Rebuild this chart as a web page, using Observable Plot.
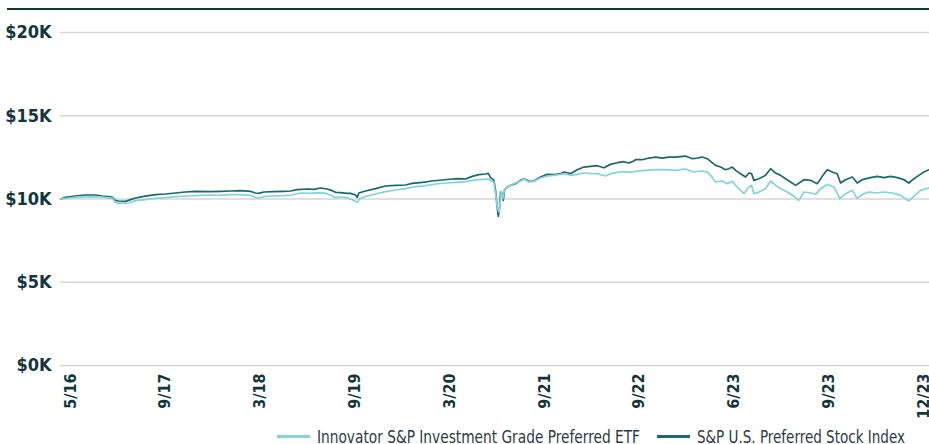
<!DOCTYPE html>
<html>
<head>
<meta charset="utf-8">
<script src="https://cdn.jsdelivr.net/npm/d3@7"></script>
<script src="https://cdn.jsdelivr.net/npm/@observablehq/plot@0.6"></script>
<style>
  html, body { margin: 0; padding: 0; background: #ffffff; }
  #wrap { position: relative; width: 929px; height: 444px; overflow: hidden; font-family: "DejaVu Sans Condensed", "DejaVu Sans", sans-serif; }
  #rule { position: absolute; left: 7px; top: 8px; width: 922px; height: 2px; background: #12363d; }
  #chart { position: absolute; left: 0; top: 0; }
  #chart svg [aria-label="y-axis tick label"] text,
  #chart svg [aria-label="x-axis tick label"] text { font-weight: 700; }
  .item { position: absolute; top: 426px; display: flex; align-items: center; white-space: nowrap; font-size: 18px; color: #2c3b3f; }
  .sw { display: inline-block; width: 33px; height: 3px; margin-right: 7px; }
  .lab { display: inline-block; transform-origin: left center; }
</style>
</head>
<body>
<div id="wrap">
  <div id="chart"></div>
  <div id="rule"></div>
  <div id="legend"></div>
</div>
<script>
// Tick labels (evenly spaced on the axis, as in the reference)
const tickLabels = ["5/16", "9/17", "3/18", "9/19", "3/20", "9/21", "9/22", "6/23", "9/23", "12/23"];
const yTicks = [0, 5000, 10000, 15000, 20000];

const seriesNames = ["Innovator S&P Investment Grade Preferred ETF", "S&P U.S. Preferred Stock Index"];
const seriesColors = ["#84d2db", "#1b686c"];

// S&P U.S. Preferred Stock Index: position along axis (tick units) and growth of $10K
const idxT = [-0.105,-0.053,0.053,0.158,0.264,0.338,0.401,0.443,0.464,0.506,0.580,0.633,0.686,0.759,0.823,0.897,1.002,1.108,1.213,1.319,
  1.477,1.582,1.688,1.793,1.899,1.951,1.986,2.039,2.145,2.250,2.321,2.391,2.497,2.567,2.637,2.708,2.760,2.795,2.848,2.918,
  2.954,3.006,3.024,3.042,3.112,3.217,3.323,3.428,3.534,3.604,3.710,3.815,3.921,4.026,4.096,4.167,4.237,4.307,4.378,4.406,4.430,
  4.466,4.483,4.501,4.512,4.525,4.536,4.554,4.564,4.578,4.606,4.641,4.694,4.747,4.782,4.835,4.887,4.958,5.028,5.098,5.169,5.204,5.274,5.345,5.415,5.485,5.556,5.626,5.696,5.767,5.837,5.890,5.942,
  5.960,6.031,6.100,6.171,6.242,6.311,6.382,6.487,6.558,6.610,6.663,6.716,6.751,6.804,6.857,6.909,6.944,6.980,7.015,7.068,7.120,7.155,7.184,7.208,7.261,7.331,7.384,7.437,7.489,
  7.542,7.595,7.648,7.700,7.735,7.806,7.876,7.929,7.982,8.034,8.087,8.122,8.175,8.246,8.298,8.351,8.439,8.509,8.579,8.650,8.720,8.790,8.843,8.896,8.948,9.001,9.054];
const idxV = [10000,10100,10180,10240,10240,10180,10140,10100,9940,9880,9860,9960,10060,10140,10200,10260,10300,10360,10420,10460,
  10440,10460,10480,10500,10460,10360,10340,10420,10440,10460,10480,10560,10600,10580,10660,10600,10500,10400,10380,10340,
  10340,10240,10100,10360,10480,10620,10780,10820,10840,10940,11000,11080,11140,11200,11220,11200,11360,11460,11500,11540,11300,
  11120,10520,9520,8960,9420,10420,10320,9920,10520,10720,10820,10920,11120,11220,11060,11080,11320,11480,11460,11520,11620,11520,11760,11920,11960,12000,11880,12080,12180,12240,12160,12280,
  12360,12360,12460,12520,12460,12520,12520,12580,12420,12460,12520,12420,12260,12020,11920,11760,11820,11920,11720,11520,11320,11560,11520,11120,11220,11420,11820,11560,11420,
  11220,11020,10820,11020,11160,11120,10920,11360,11760,11620,11520,10960,11160,11320,10960,11160,11280,11360,11280,11360,11280,11160,10960,11220,11420,11620,11760];

// Innovator S&P Investment Grade Preferred ETF
const etfT = [-0.105,0.053,0.158,0.264,0.369,0.443,0.475,0.549,0.612,0.686,0.791,0.897,1.002,1.108,1.245,
  1.371,1.477,1.582,1.688,1.793,1.899,1.951,1.986,2.039,2.145,2.250,2.338,2.426,2.532,2.637,2.708,2.760,2.795,2.848,2.918,
  2.971,3.024,3.049,3.112,3.217,3.323,3.428,3.534,3.639,3.745,3.850,3.956,4.061,4.167,4.237,4.343,4.413,
  4.430,4.466,4.483,4.501,4.519,4.530,4.543,4.560,4.578,4.624,4.676,4.747,4.782,4.835,4.887,4.958,5.028,5.098,5.169,5.222,5.274,5.345,5.415,5.485,5.556,5.643,5.696,5.767,5.837,5.907,5.978,
  6.065,6.171,6.276,6.382,6.487,6.575,6.663,6.716,6.751,6.804,6.874,6.927,6.980,7.032,7.103,7.155,7.184,7.208,7.261,7.331,7.384,7.437,7.489,
  7.560,7.630,7.683,7.735,7.806,7.859,7.911,7.982,8.052,8.115,8.175,8.246,8.298,8.351,8.421,8.509,8.579,8.667,8.755,8.843,8.896,8.966,9.054];
const etfV = [10000,10100,10120,10140,10100,10040,9780,9740,9760,9900,9960,10040,10080,10140,10180,
  10220,10240,10220,10260,10260,10220,10100,10060,10140,10180,10200,10240,10360,10340,10380,10320,10200,10080,10120,10080,
  9960,9800,10000,10160,10300,10440,10540,10620,10740,10800,10900,10960,11000,11040,11120,11180,11200,
  11100,11020,10320,9520,9220,9720,10420,10020,10560,10780,10920,11080,11200,11020,11060,11260,11380,11420,11480,11520,11420,11480,11560,11520,11520,11380,11520,11600,11640,11600,11680,
  11720,11760,11760,11720,11800,11620,11680,11620,11420,11020,11080,10920,11060,10720,10320,10720,10820,10320,10420,10620,11080,10820,10620,
  10420,10160,9920,10420,10360,10280,10620,10880,10720,10020,10320,10520,10020,10280,10420,10360,10420,10360,10220,9880,10160,10520,10660];

const idxData = idxT.map((t, i) => ({t, v: idxV[i]}));
const etfData = etfT.map((t, i) => ({t, v: etfV[i]}));
const tickPos = tickLabels.map((_, i) => i);

const chart = Plot.plot({
  width: 929,
  height: 420,
  marginLeft: 60,
  marginRight: 0,
  marginTop: 32,
  marginBottom: 55,
  style: {fontFamily: '"DejaVu Sans Condensed", "DejaVu Sans", sans-serif', fontSize: "17px", color: "#12363d", background: "#ffffff"},
  x: {domain: [-0.105, 9.06], axis: null},
  y: {domain: [0, 20000], axis: null},
  marks: [
    Plot.gridY(yTicks, {stroke: "#d6d6d6", strokeOpacity: 1, strokeWidth: 1.3}),
    Plot.axisY(yTicks, {label: null, tickSize: 0, tickPadding: 9, tickFormat: d => `$${d / 1000}K`, fill: "#12363d", fontSize: 18}),
    Plot.axisX(tickPos, {label: null, tickSize: 0, tickPadding: 8, tickRotate: -90, tickFormat: d => tickLabels[Math.round(d)], fill: "#12363d", fontSize: 16}),
    Plot.line(idxData, {x: "t", y: "v", stroke: seriesColors[1], strokeWidth: 1.7}),
    Plot.line(etfData, {x: "t", y: "v", stroke: seriesColors[0], strokeWidth: 1.7})
  ]
});
document.getElementById("chart").appendChild(chart);

// Legend (HTML, below the SVG)
const legend = document.getElementById("legend");
const itemLeft = [277, 657];
const labelWidth = [323, 208];
seriesNames.forEach((name, i) => {
  const item = document.createElement("div");
  item.className = "item";
  item.style.left = itemLeft[i] + "px";
  const sw = document.createElement("span");
  sw.className = "sw";
  sw.style.background = seriesColors[i];
  const lab = document.createElement("span");
  lab.className = "lab";
  lab.textContent = name;
  item.appendChild(sw);
  item.appendChild(lab);
  legend.appendChild(item);
  const w = lab.getBoundingClientRect().width;
  if (w > 0) lab.style.transform = `scaleX(${labelWidth[i] / w})`;
});
</script>
</body>
</html>
